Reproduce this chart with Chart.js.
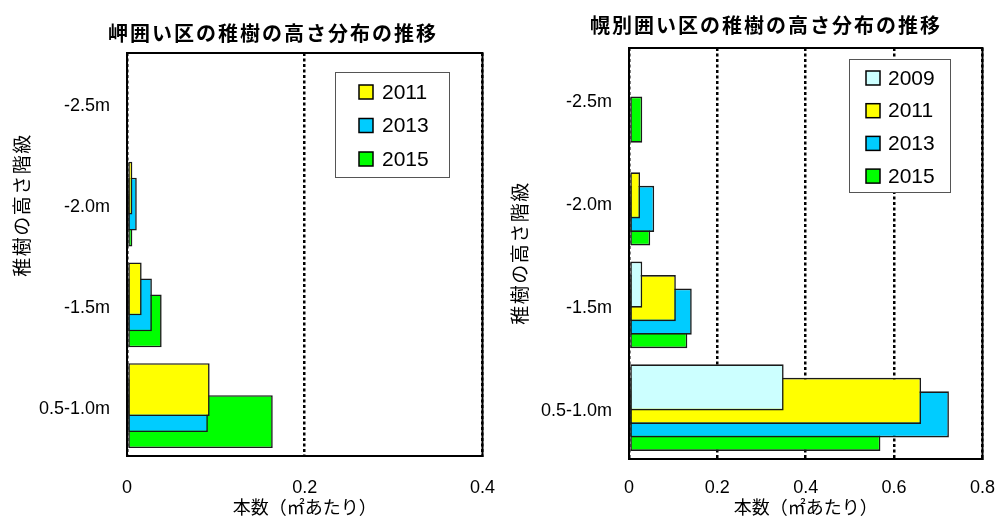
<!DOCTYPE html>
<html lang="ja">
<head>
<meta charset="utf-8">
<script src="https://cdn.jsdelivr.net/npm/chart.js@4.4.1/dist/chart.umd.min.js"></script>
<style>
  html, body { margin: 0; padding: 0; background: #fff; }
  #wrap { position: relative; width: 997px; height: 518px; overflow: hidden; }
  canvas { position: absolute; top: 0; }
  #misaki { left: 0; }
  #horobetsu { left: 497px; }
</style>
</head>
<body>
<div id="wrap">
  <canvas id="misaki" width="516" height="518"></canvas>
  <canvas id="horobetsu" width="516" height="518"></canvas>
</div>
<script>
const HEIGHT_CLASSES = ['-2.5m', '-2.0m', '-1.5m', '0.5-1.0m'];

const MISAKI_YEARS = ['2011', '2013', '2015'];
const MISAKI_2011 = [0, 0.006, 0.0165, 0.093];
const MISAKI_2013 = [0, 0.011, 0.028, 0.091];
const MISAKI_2015 = [0, 0.006, 0.039, 0.164];

const HOROBETSU_YEARS = ['2009', '2011', '2013', '2015'];
const HOROBETSU_2009 = [0, 0, 0.030, 0.350];
const HOROBETSU_2011 = [0, 0.025, 0.106, 0.661];
const HOROBETSU_2013 = [0, 0.057, 0.142, 0.724];
const HOROBETSU_2015 = [0.030, 0.048, 0.132, 0.569];

const MISAKI_TICKS = [0, 0.2, 0.4];
const HOROBETSU_TICKS = [0, 0.2, 0.4, 0.6, 0.8];

const YEAR_COLOR_MAP = {
  '2009': '#CCFFFF', '2011': '#FFFF00',
  '2013': '#00CCFF', '2015': '#00FF00',
};

const JP_FONT = '"Noto Sans CJK JP", sans-serif';
const NUM_FONT = '"Liberation Sans", Arial, sans-serif';

// Free text (chart title, vertical axis title) placed where the original had it.
const freeText = {
  id: 'freeText',
  afterDraw(chart, args, opts) {
    const ctx = chart.ctx;
    (opts.items || []).forEach(t => {
      ctx.save();
      ctx.font = t.font;
      ctx.letterSpacing = t.spacing || '0px';
      ctx.fillStyle = '#000';
      ctx.textAlign = 'center';
      ctx.textBaseline = 'middle';
      ctx.translate(t.x, t.y);
      if (t.rotate) ctx.rotate(t.rotate);
      ctx.fillText(t.text, 0, 0);
      ctx.restore();
    });
  }
};

// Excel-style legend: thin grey box inside the plot, one row per year.
const boxedLegend = {
  id: 'boxedLegend',
  afterDraw(chart, args, opts) {
    const ctx = chart.ctx;
    ctx.save();
    ctx.fillStyle = '#fff';
    ctx.fillRect(opts.x, opts.y, opts.w, opts.h);
    ctx.strokeStyle = '#555';
    ctx.lineWidth = 1;
    ctx.strokeRect(opts.x + .5, opts.y + .5, opts.w, opts.h);
    ctx.font = '21px ' + NUM_FONT;
    ctx.textBaseline = 'middle';
    chart.data.datasets.forEach((ds, i) => {
      const cy = opts.firstRow + i * opts.rowGap;
      ctx.fillStyle = ds.backgroundColor;
      ctx.fillRect(opts.swatchX, cy - 7, 14, 14);
      ctx.lineWidth = 1.5;
      ctx.strokeStyle = '#000';
      ctx.strokeRect(opts.swatchX, cy - 7, 14, 14);
      ctx.fillStyle = '#000';
      ctx.fillText(ds.label, opts.textX, cy + 1);
    });
    ctx.restore();
  }
};

// Solid frame round the plot area, on top of the bars.
const plotFrame = {
  id: 'plotFrame',
  afterDatasetsDraw(chart) {
    const { ctx, chartArea: a } = chart;
    ctx.save();
    ctx.strokeStyle = '#000';
    ctx.lineWidth = 2;
    ctx.strokeRect(a.left, a.top, a.right - a.left, a.bottom - a.top);
    ctx.restore();
  }
};

function makeChart(id, cfg) {
  const datasets = cfg.years.map((year, i) => ({
    label: year,
    data: cfg.series[i],
    backgroundColor: YEAR_COLOR_MAP[year],
    borderColor: '#1a1a1a',
    borderWidth: 1.6,
    borderSkipped: false,
    categoryPercentage: cfg.catPct,
    barPercentage: cfg.barPct,
  }));

  return new Chart(document.getElementById(id), {
    type: 'bar',
    data: { labels: HEIGHT_CLASSES, datasets },
    plugins: [freeText, boxedLegend, plotFrame],
    options: {
      indexAxis: 'y',
      responsive: false,
      animation: false,
      layout: { padding: { top: cfg.top, right: 0, left: 0, bottom: 0 } },
      plugins: {
        legend: { display: false },
        tooltip: { enabled: false },
        freeText: {
          items: [
            { text: cfg.title, x: cfg.titleX, y: cfg.titleY, font: 'bold 20px ' + JP_FONT, spacing: '2px' },
            { text: '稚樹の高さ階級', x: cfg.yTitleX, y: cfg.yTitleY, font: '19px ' + JP_FONT, spacing: '1.5px', rotate: -Math.PI / 2 },
          ]
        },
        boxedLegend: cfg.legend,
      },
      scales: {
        x: {
          min: 0, max: cfg.ticks[cfg.ticks.length - 1],
          afterBuildTicks: s => { s.ticks = cfg.ticks.map(v => ({ value: v })); },
          afterFit: s => { s.height = cfg.xHeight; },
          grid: { color: '#000', lineWidth: 2.5, drawTicks: false },
          border: { display: true, color: '#000', width: 2, dash: [3, 2.5] },
          ticks: { color: '#000', padding: cfg.xTickPad, font: { family: NUM_FONT, size: 18 } },
          title: {
            display: true, text: '本数（㎡あたり）', color: '#000',
            padding: { top: 0, bottom: 0 }, font: { family: JP_FONT, size: 18 },
          },
        },
        y: {
          afterFit: s => { s.width = cfg.yWidth; },
          grid: { display: false, drawTicks: false },
          border: { display: true, color: '#000', width: 2 },
          ticks: { color: '#000', padding: 17, labelOffset: 3, font: { family: NUM_FONT, size: 18 } },
        },
      },
    },
  });
}

document.addEventListener('DOMContentLoaded', () => {
  makeChart('misaki', {
    title: '岬囲い区の稚樹の高さ分布の推移', titleX: 273, titleY: 33,
    yTitleX: 22, yTitleY: 205,
    years: MISAKI_YEARS, series: [MISAKI_2011, MISAKI_2013, MISAKI_2015],
    ticks: MISAKI_TICKS,
    top: 53, yWidth: 127, xHeight: 62, xTickPad: 21,
    catPct: 0.476, barPct: 3.31,
    legend: { x: 335, y: 72, w: 114, h: 105, swatchX: 359, textX: 382, firstRow: 92, rowGap: 33.5 },
  });
  makeChart('horobetsu', {
    title: '幌別囲い区の稚樹の高さ分布の推移', titleX: 269, titleY: 25,
    yTitleX: 23, yTitleY: 253,
    years: HOROBETSU_YEARS, series: [HOROBETSU_2009, HOROBETSU_2011, HOROBETSU_2013, HOROBETSU_2015],
    ticks: HOROBETSU_TICKS,
    top: 48, yWidth: 132, xHeight: 59, xTickPad: 18,
    catPct: 0.5255, barPct: 3.41,
    legend: { x: 352, y: 59, w: 101, h: 133, swatchX: 369, textX: 391, firstRow: 78, rowGap: 32.7 },
  });
});
</script>
</body>
</html>
